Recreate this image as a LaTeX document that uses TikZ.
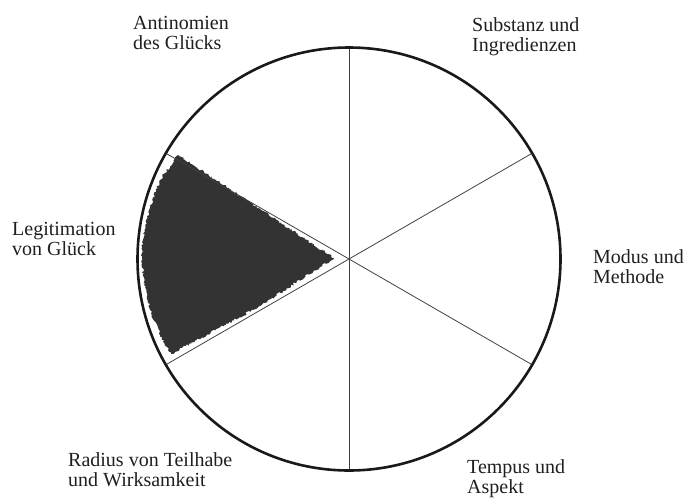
\documentclass[tikz,border=0pt]{standalone}
\usepackage{fontspec}
\setmainfont{Liberation Serif}
\usetikzlibrary{calc,decorations.pathmorphing}
\tikzset{
  rim/.style={line width=2.6pt, black!90},
  ray/.style={line width=0.8pt, black!75},
  lbl/.style={anchor=base west, align=left, inner sep=0pt, text=black!88,
    font=\fontsize{20pt}{20pt}\selectfont},
  blob/.style={fill=black!80, draw=none,
    decorate, decoration={random steps, segment length=1.6pt, amplitude=1.3pt}}
}
\begin{document}
\begin{tikzpicture}[x=1pt,y=-1pt]
\useasboundingbox (0,0) rectangle (687,498);
\coordinate (c) at (349,259);
\foreach \a in {30,90,150,210,270,330}{
  \coordinate (p\a) at ($(c)+(\a:211.5pt)$);
}
% shaded sector
\path[blob] (334,258) -- (260,209) -- (178,155) -- (160,180) -- (149,210) -- (143,240)
  -- (142,258) -- (144,285) -- (150,310) -- (160,335) -- (171,354) -- (260,306) -- cycle;
% rays
\draw[ray] (p90) -- (p270);
\draw[ray] (p30) -- (p210);
\draw[ray] (p150) -- (p330);
% rim
\draw[rim] (c) circle[radius=211.5pt];
% labels (anchor = baseline of the last line)
\node[lbl] (antinomien) at (133,49.5) {Antinomien\\des Glücks};
\node[lbl] (substanz) at (472,51.5) {Substanz und\\Ingredienzen};
\node[lbl] (legitimation) at (12,255) {Legitimation\\von Glück};
\node[lbl] (modus) at (593,283) {Modus und\\Methode};
\node[lbl] (radius) at (68,486.5) {Radius von Teilhabe\\und Wirksamkeit};
\node[lbl] (tempus) at (467,493) {Tempus und\\Aspekt};
\end{tikzpicture}
\end{document}
